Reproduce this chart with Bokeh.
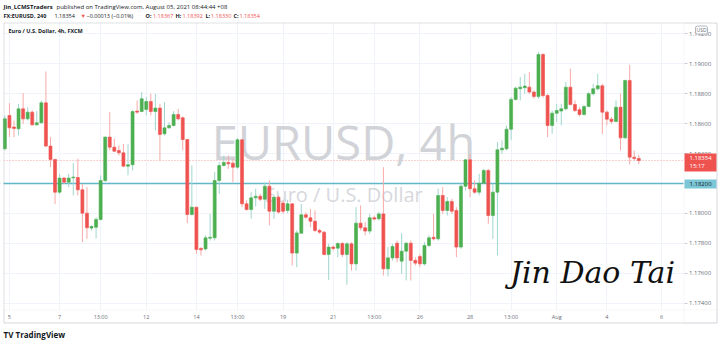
from bokeh.plotting import figure
from bokeh.models import (FixedTicker, Label, BoxAnnotation, Span, Range1d,
                          ColumnDataSource, NumeralTickFormatter)
from bokeh.embed import file_html
from bokeh.resources import INLINE

# ---- EURUSD 4h candles (FXCM), Jul 2 .. Aug 5 2021 ----
opens = [1.18432, 1.18655, 1.18577, 1.18566, 1.18699, 1.18632, 1.18677, 1.18592, 1.18606, 1.18739,
         1.18450, 1.18361, 1.18142, 1.18236, 1.18209, 1.18238, 1.18240, 1.18158, 1.18002, 1.17902,
         1.17908, 1.17960, 1.18220, 1.18510, 1.18443, 1.18421, 1.18405, 1.18316, 1.18325, 1.18684,
         1.18681, 1.18695, 1.18748, 1.18681, 1.18704, 1.18532, 1.18572, 1.18588, 1.18661, 1.18639,
         1.18494, 1.17993, 1.18042, 1.17766, 1.17763, 1.17835, 1.17837, 1.18220, 1.18320, 1.18341,
         1.18336, 1.18309, 1.18492, 1.18064, 1.18026, 1.18104, 1.18115, 1.18095, 1.18182, 1.18015,
         1.18109, 1.18069, 1.18020, 1.18064, 1.17735, 1.17868, 1.17991, 1.17971, 1.17948, 1.17886,
         1.17875, 1.17726, 1.17775, 1.17768, 1.17799, 1.17726, 1.17797, 1.17663, 1.17935, 1.17904,
         1.17882, 1.17971, 1.17964, 1.17997, 1.17630, 1.17703, 1.17801, 1.17681, 1.17748, 1.17801,
         1.17686, 1.17712, 1.17663, 1.17786, 1.17841, 1.17830, 1.18120, 1.18020, 1.18080, 1.18020,
         1.17775, 1.18182, 1.18358, 1.18165, 1.18142, 1.18202, 1.18287, 1.17986, 1.18142, 1.18425,
         1.18432, 1.18563, 1.18762, 1.18833, 1.18840, 1.18844, 1.18811, 1.18782, 1.19062, 1.18788,
         1.18588, 1.18670, 1.18684, 1.18699, 1.18844, 1.18728, 1.18693, 1.18661, 1.18715, 1.18800,
         1.18833, 1.18853, 1.18677, 1.18630, 1.18615, 1.18710, 1.18505, 1.18889, 1.18376, 1.18367]
highs = [1.18655, 1.18737, 1.18621, 1.18733, 1.18804, 1.18710, 1.18688, 1.18684, 1.18755, 1.18949,
         1.18510, 1.18365, 1.18265, 1.18243, 1.18265, 1.18336, 1.18365, 1.18198, 1.18176, 1.17920,
         1.17975, 1.18254, 1.18514, 1.18677, 1.18499, 1.18454, 1.18465, 1.18465, 1.18688, 1.18755,
         1.18811, 1.18777, 1.18800, 1.18800, 1.18733, 1.18744, 1.18610, 1.18684, 1.18699, 1.18648,
         1.18499, 1.18320, 1.18042, 1.17775, 1.17853, 1.17997, 1.18276, 1.18343, 1.18387, 1.18387,
         1.18365, 1.18505, 1.18497, 1.18087, 1.18142, 1.18165, 1.18131, 1.18209, 1.18220, 1.18120,
         1.18120, 1.18087, 1.18091, 1.18069, 1.17886, 1.18064, 1.18009, 1.18031, 1.18020, 1.17897,
         1.17882, 1.17797, 1.17786, 1.17808, 1.17808, 1.17808, 1.17808, 1.18042, 1.18053, 1.17942,
         1.17997, 1.17986, 1.18009, 1.18309, 1.17775, 1.17797, 1.17819, 1.17868, 1.17808, 1.17819,
         1.17708, 1.17730, 1.17808, 1.17853, 1.17997, 1.18165, 1.18176, 1.18109, 1.18098, 1.18042,
         1.18209, 1.18365, 1.18398, 1.18220, 1.18265, 1.18298, 1.18298, 1.18198, 1.18477, 1.18488,
         1.18588, 1.18777, 1.18849, 1.18911, 1.18933, 1.18944, 1.18822, 1.19078, 1.19071, 1.18800,
         1.18688, 1.18733, 1.18733, 1.18878, 1.18967, 1.18755, 1.18710, 1.18722, 1.18811, 1.18866,
         1.18933, 1.18866, 1.18688, 1.18644, 1.18755, 1.18800, 1.18893, 1.18993, 1.18421, 1.18392]
lows = [1.18421, 1.18510, 1.18510, 1.18521, 1.18599, 1.18621, 1.18586, 1.18586, 1.18599, 1.18443,
        1.18309, 1.18064, 1.18131, 1.18198, 1.18176, 1.18120, 1.18120, 1.17808, 1.17830, 1.17886,
        1.17833, 1.17953, 1.18209, 1.18421, 1.18410, 1.18387, 1.18309, 1.18254, 1.18287, 1.18666,
        1.18677, 1.18655, 1.18655, 1.18554, 1.18354, 1.18521, 1.18566, 1.18581, 1.18621, 1.18421,
        1.17935, 1.17986, 1.17730, 1.17719, 1.17752, 1.17819, 1.17819, 1.18131, 1.18314, 1.18298,
        1.18209, 1.18298, 1.18042, 1.18020, 1.17964, 1.18047, 1.18082, 1.18031, 1.17920, 1.17964,
        1.17997, 1.17997, 1.18002, 1.17652, 1.17641, 1.17864, 1.17964, 1.17908, 1.17875, 1.17864,
        1.17719, 1.17556, 1.17752, 1.17708, 1.17708, 1.17523, 1.17619, 1.17619, 1.17886, 1.17853,
        1.17864, 1.17953, 1.17953, 1.17585, 1.17579, 1.17686, 1.17674, 1.17596, 1.17552, 1.17552,
        1.17652, 1.17641, 1.17652, 1.17775, 1.17819, 1.17819, 1.17997, 1.17986, 1.17997, 1.17708,
        1.17763, 1.18153, 1.18109, 1.18131, 1.18120, 1.18198, 1.17931, 1.17830, 1.17719, 1.18398,
        1.18421, 1.18492, 1.18755, 1.18755, 1.18800, 1.18800, 1.18766, 1.18766, 1.18773, 1.18510,
        1.18532, 1.18610, 1.18588, 1.18688, 1.18722, 1.18677, 1.18648, 1.18655, 1.18710, 1.18788,
        1.18822, 1.18532, 1.18588, 1.18599, 1.18610, 1.18421, 1.18499, 1.18327, 1.18354, 1.18330]
closes = [1.18632, 1.18572, 1.18568, 1.18699, 1.18632, 1.18677, 1.18592, 1.18606, 1.18739, 1.18450,
          1.18361, 1.18142, 1.18236, 1.18209, 1.18236, 1.18243, 1.18158, 1.18002, 1.17904, 1.17913,
          1.17960, 1.18220, 1.18510, 1.18443, 1.18416, 1.18405, 1.18316, 1.18325, 1.18681, 1.18677,
          1.18766, 1.18748, 1.18681, 1.18704, 1.18528, 1.18572, 1.18588, 1.18661, 1.18632, 1.18494,
          1.17993, 1.18042, 1.17759, 1.17757, 1.17837, 1.17841, 1.18220, 1.18320, 1.18341, 1.18332,
          1.18309, 1.18492, 1.18064, 1.18026, 1.18104, 1.18115, 1.18095, 1.18182, 1.18015, 1.18109,
          1.18009, 1.18015, 1.18064, 1.17735, 1.17870, 1.17991, 1.17975, 1.17948, 1.17886, 1.17875,
          1.17726, 1.17775, 1.17766, 1.17799, 1.17726, 1.17797, 1.17663, 1.17935, 1.17904, 1.17882,
          1.17971, 1.17962, 1.17997, 1.17630, 1.17703, 1.17779, 1.17703, 1.17748, 1.17801, 1.17686,
          1.17668, 1.17663, 1.17786, 1.17837, 1.17830, 1.18120, 1.18020, 1.18080, 1.18015, 1.17775,
          1.18182, 1.18358, 1.18165, 1.18142, 1.18202, 1.18287, 1.17986, 1.18142, 1.18425, 1.18436,
          1.18563, 1.18762, 1.18837, 1.18844, 1.18851, 1.18811, 1.18782, 1.19062, 1.18788, 1.18588,
          1.18670, 1.18688, 1.18699, 1.18844, 1.18728, 1.18688, 1.18661, 1.18715, 1.18800, 1.18833,
          1.18853, 1.18677, 1.18630, 1.18615, 1.18710, 1.18505, 1.18889, 1.18376, 1.18367, 1.18354]

# time-axis labels (candle index where each label falls; weekends skipped)
tick_idx = [1, 12, 21, 31, 42, 51, 61, 72, 81, 91, 102, 111, 121, 132, 144]
tick_labels = ["5", "7", "13:00", "12", "14", "13:00", "19", "21", "13:00",
               "26", "28", "13:00", "Aug", "4", "6"]
price_ticks = [1.174, 1.176, 1.178, 1.180, 1.182, 1.184, 1.186, 1.188, 1.190, 1.192]
last_price = 1.18354
alert_price = 1.18200

UP, DOWN = "#4caf50", "#ef5350"
BLACK = "#131722"
n = len(opens)
xs = list(range(n))
is_up = [c >= o for o, c in zip(opens, closes)]
src = ColumnDataSource(dict(
    x=xs, high=highs, low=lows,
    top=[max(o, c) for o, c in zip(opens, closes)],
    bottom=[min(o, c) for o, c in zip(opens, closes)],
    body=[UP if u else DOWN for u in is_up],
    wick=["#9fd6cd" if u else "#f7a9a8" for u in is_up],
))

# The plot frame fills the whole canvas; the chart pane is the region
# x 3..683, y 22..309 (canvas px); price scale and time scale are drawn as
# axes fixed at the pane's right and bottom edges.
p = figure(width=720, height=342, output_backend="svg", toolbar_location=None,
           x_range=Range1d(-0.958, 156.913), y_range=Range1d(1.171375, 1.194230),
           y_axis_location="right",
           min_border_left=0, min_border_right=0, min_border_top=0, min_border_bottom=0)
p.background_fill_color = "white"
p.border_fill_color = "white"
p.outline_line_color = None

# axes
p.yaxis.fixed_location = 148.91
p.yaxis.ticker = FixedTicker(ticks=price_ticks)
p.yaxis.formatter = NumeralTickFormatter(format="0.00000")
p.yaxis.major_label_text_font_size = "6px"
p.yaxis.major_label_text_font = "Open Sans"
p.yaxis.major_label_text_color = "#6a6d78"
p.yaxis.axis_line_color = None
p.yaxis.major_tick_line_color = "#c8cbd3"
p.yaxis.major_tick_in = 0
p.yaxis.major_tick_out = 3
p.yaxis.minor_tick_line_color = None
p.yaxis.major_label_standoff = 2

p.xaxis.fixed_location = 1.17358
p.xaxis.ticker = FixedTicker(ticks=tick_idx)
p.xaxis.major_label_overrides = {t: l for t, l in zip(tick_idx, tick_labels)}
p.xaxis.major_label_text_font_size = "5.5px"
p.xaxis.major_label_text_font = "Open Sans"
p.xaxis.major_label_text_color = "#6a6d78"
p.xaxis.axis_line_color = None
p.xaxis.major_tick_line_color = None
p.xaxis.major_tick_in = 0
p.xaxis.major_tick_out = 0
p.xaxis.minor_tick_line_color = None
p.xaxis.major_label_standoff = 3

p.xgrid.grid_line_color = "#f0f3fa"
p.ygrid.grid_line_color = "#f0f3fa"

# price lines (under the candles)
p.add_layout(Span(location=alert_price, dimension="width", line_color="#62b6ca",
                  line_width=1.6, level="underlay"))
p.add_layout(Span(location=last_price, dimension="width", line_color="#ef5350", line_alpha=0.55,
                  line_width=1, line_dash="1 2", level="underlay"))

def box(l, r, t, b, **kw):
    p.add_layout(BoxAnnotation(left=l, right=r, top=t, bottom=b, left_units="canvas",
                               right_units="canvas", top_units="canvas", bottom_units="canvas",
                               **kw))

# white masks outside the chart pane (hide grid / line overflow)
for l, r, t, b in [(0, 720, 0, 22), (0, 720, 309, 342), (683, 720, 0, 342), (0, 3, 0, 342)]:
    box(l, r, t, b, fill_color="white", fill_alpha=1, line_color=None, level="underlay")
# separators of the price scale and time scale
box(683.5, 716.5, 22.5, 322.5, fill_color=None, fill_alpha=0, line_color="#e0e3eb",
    line_width=1, level="underlay")
box(3.5, 716.5, 309.5, 322.5, fill_color=None, fill_alpha=0, line_color="#e0e3eb",
    line_width=1, level="underlay")

def lab(x, y, text, color=BLACK, bold=False, size="6px", font="Open Sans", style=None, **kw):
    st = style if style else ("bold" if bold else "normal")
    p.add_layout(Label(x=x, y=y, x_units="canvas", y_units="canvas", text=text,
                       text_font=font, text_font_size=size, text_color=color,
                       text_font_style=st, text_baseline="middle", **kw))

# watermark
lab(343, 141, "EURUSD, 4h", color="#d1d3d8", size="47px", text_align="center", level="underlay")
lab(343, 194, "Euro / U.S. Dollar", color="#d6d8dd", size="20px", text_align="center",
    level="underlay")

# candles
p.segment(x0="x", y0="high", x1="x", y1="low", line_color="wick", line_width=1, source=src)
p.vbar(x="x", width=0.66, top="top", bottom="bottom", fill_color="body", line_color="body",
       line_width=0.6, source=src)

# price-scale tags
box(684, 716, 153, 171, fill_color="#ef5350", fill_alpha=1, line_color=None)
lab(689, 157.5, f"{last_price:.5f}", color="white")
lab(689, 165.5, "15:17", color="white")
box(684, 716, 179, 188, fill_color="#7cc7d7", fill_alpha=1, line_color=None)
lab(689, 183.5, f"{alert_price:.5f}", color=BLACK)
lab(701, 29.5, "USD", color="#6a6d78", size="5px", text_align="center",
    background_fill_color="white", border_line_color="#b2b5be", padding=1, border_radius=2)

# outer border
box(3.5, 716.5, 22.5, 322.5, fill_color=None, fill_alpha=0, line_color="#9598a1", line_width=1)

# header
lab(3, 6, "Jin_LCMSTraders", bold=True)
lab(56, 6, "published on TradingView.com, August 05, 2021 08:44:44 +08")
H2 = "5.5px"
lab(3, 15, "FX:EURUSD, 240", bold=True, size=H2)
lab(54, 15, "1.18354", size=H2)
lab(80, 15, "\u25bc", color=DOWN, size=H2)
lab(86, 15, "\u22120.00013 (\u22120.01%)", size=H2)
lab(145, 15, "O:", bold=True, size=H2)
lab(152.5, 15, "1.18367", color=DOWN, size=H2)
lab(175, 15, "H:", bold=True, size=H2)
lab(182, 15, "1.18392", color=DOWN, size=H2)
lab(205, 15, "L:", bold=True, size=H2)
lab(210.5, 15, "1.18330", color=DOWN, size=H2)
lab(233, 15, "C:", bold=True, size=H2)
lab(239, 15, "1.18354", color=DOWN, size=H2)

# in-pane legend
lab(8, 30, "Euro / U.S. Dollar, 4h, FXCM", bold=True, size="5.5px")

# footer logo text
lab(3, 333.5, "TV", bold=True, size="8px")
lab(15, 333.5, "TradingView", bold=True, size="8px")

# signature
lab(592, 272, "Jin Dao Tai", color="#111111", size="30px", font="DejaVu Serif",
    style="italic", text_align="center")

open("out.html", "w").write(file_html(p, INLINE))
